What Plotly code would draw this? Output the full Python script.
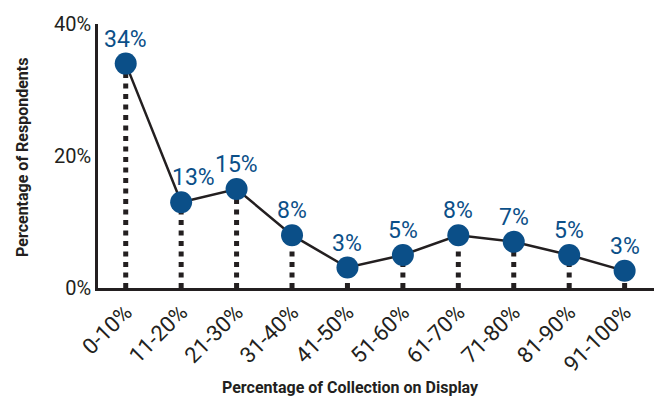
import plotly.graph_objects as go

categories = ["0-10%", "11-20%", "21-30%", "31-40%", "41-50%",
              "51-60%", "61-70%", "71-80%", "81-90%", "91-100%"]
respondents = [34, 13, 15, 8, 3.1, 5, 8, 7, 5, 2.6]
y_ticks = [0, 20, 40]
y_tick_labels = ["0%", "20%", "40%"]

FONT = "Roboto"
INK = "#231f20"
BLUE = "#0b4f88"

xs = list(range(len(categories)))

# dotted drop lines from each point down to the baseline
drop_x, drop_y = [], []
for x, v in zip(xs, respondents):
    drop_x += [x, x, None]
    drop_y += [0, v, None]

fig = go.Figure()
fig.add_trace(go.Scatter(
    x=drop_x, y=drop_y, mode="lines",
    line=dict(color=INK, width=5, dash="5px,5.5px"),
    hoverinfo="skip", showlegend=False, cliponaxis=False,
))
fig.add_trace(go.Scatter(
    x=xs, y=respondents, mode="lines+markers",
    line=dict(color=INK, width=2.5),
    marker=dict(size=22, color=BLUE),
    showlegend=False, cliponaxis=False,
))

# value labels above each point; the 11-20% label sits right of the line
label_nudge = {1: 12}
value_labels = [
    dict(x=x, y=v, xref="x", yref="y", text=f"{v:.0f}%",
         showarrow=False, xanchor="center", yanchor="bottom",
         yshift=9, xshift=label_nudge.get(i, 0),
         font=dict(family=FONT, size=23, color=BLUE))
    for i, (x, v) in enumerate(zip(xs, respondents))
]

axis_titles = [
    dict(text="<b>Percentage of Collection on Display</b>",
         xref="paper", yref="paper", x=0.455, y=-0.375,
         xanchor="center", yanchor="middle", showarrow=False,
         font=dict(size=16, color=INK)),
    dict(text="<b>Percentage of Respondents</b>",
         xref="paper", yref="paper", x=-0.137, y=0.496,
         xanchor="center", yanchor="middle", showarrow=False,
         textangle=-90, font=dict(size=16, color=INK)),
]

fig.update_layout(
    width=654, height=400,
    margin=dict(l=98, r=0, t=24, b=112, autoexpand=False),
    paper_bgcolor="white", plot_bgcolor="white",
    font=dict(family=FONT, color=INK),
    annotations=value_labels + axis_titles,
)
fig.update_xaxes(
    range=[-0.5, 9.53], tickmode="array", tickvals=xs, ticktext=categories,
    tickangle=-45, tickfont=dict(size=22, color=INK), automargin=False,
    showline=True, linecolor=INK, linewidth=2.5, showgrid=False,
    zeroline=False, ticks="",
)
fig.update_yaxes(
    range=[0, 40], tickmode="array", tickvals=y_ticks, ticktext=y_tick_labels,
    tickfont=dict(size=20, color=INK), automargin=False,
    showline=True, linecolor=INK, linewidth=2.5, showgrid=False,
    zeroline=False, ticks="",
)

fig.write_html("out.html")
